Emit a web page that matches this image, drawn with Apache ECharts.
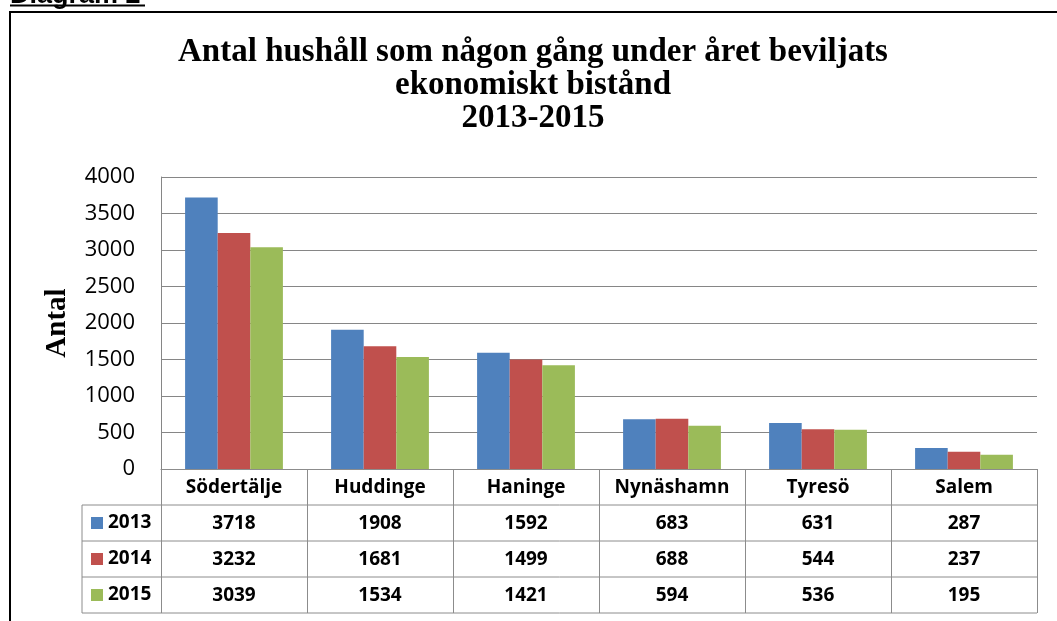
<!DOCTYPE html>
<html>
<head>
<meta charset="utf-8">
<script src="https://cdn.jsdelivr.net/npm/echarts@6/dist/echarts.min.js"></script>
<style>
html,body{margin:0;padding:0;background:#fff;}
#graph{width:1057px;height:621px;}
</style>
</head>
<body>
<div id="graph"></div>
<script>
var categories = ['Södertälje', 'Huddinge', 'Haninge', 'Nynäshamn', 'Tyresö', 'Salem'];
var years = ['2013', '2014', '2015'];
var v2013 = [3718, 1908, 1592, 683, 631, 287];
var v2014 = [3232, 1681, 1499, 688, 544, 237];
var v2015 = [3039, 1534, 1421, 594, 536, 195];
var yMin = 0, yMax = 4000, yStep = 500;

var colors = ['#4f81bd', '#c0504d', '#9bbb59'];
var values = [v2013, v2014, v2015];
var gridGray = '#868686';
var tableGray = '#8c8c8c';
var sans = 'Open Sans';
var serif = 'Liberation Serif';

// grid position, the data table hangs below it
var G = {left: 161, right: 20, top: 177, bottom: 152};
var ROW = 36;

var chart = echarts.init(document.getElementById('graph'));

var series = years.map(function (y, i) {
    return {
        name: y,
        type: 'bar',
        data: values[i],
        barGap: 0,
        barCategoryGap: '33%',
        itemStyle: {color: colors[i]}
    };
});

var option = {
    animation: false,
    backgroundColor: '#fff',
    color: colors,
    title: {
        text: 'Antal hushåll som någon gång under året beviljats\nekonomiskt bistånd\n2013-2015',
        left: 533,
        top: 36,
        padding: 0,
        textAlign: 'center',
        textStyle: {
            fontFamily: serif,
            fontWeight: 'bold',
            fontSize: 33,
            lineHeight: 33,
            color: '#000'
        }
    },
    legend: {
        orient: 'vertical',
        left: 91,
        top: 469 + ROW,
        padding: 0,
        itemGap: 0,
        itemWidth: 12,
        itemHeight: 12,
        icon: 'rect',
        selectedMode: false,
        data: years,
        textStyle: {
            fontFamily: sans,
            fontWeight: 'bold',
            fontSize: 19,
            lineHeight: ROW,
            color: '#000'
        }
    },
    grid: {left: G.left, right: G.right, top: G.top, bottom: G.bottom, containLabel: false},
    xAxis: {
        type: 'category',
        data: categories,
        axisLine: {show: true, lineStyle: {color: tableGray, width: 1}},
        axisTick: {show: true, length: ROW * 4, lineStyle: {color: tableGray, width: 1}},
        axisLabel: {
            interval: 0,
            margin: 1,
            verticalAlign: 'top',
            fontFamily: sans,
            fontWeight: 'bold',
            fontSize: 19,
            lineHeight: ROW,
            color: '#000',
            formatter: function (name, idx) {
                return [name, v2013[idx], v2014[idx], v2015[idx]].join('\n');
            }
        }
    },
    yAxis: {
        type: 'value',
        min: yMin,
        max: yMax,
        interval: yStep,
        name: 'Antal',
        nameLocation: 'middle',
        nameRotate: 90,
        nameGap: 89,
        nameTextStyle: {
            fontFamily: serif,
            fontWeight: 'bold',
            fontSize: 29,
            color: '#000'
        },
        axisLine: {show: true, lineStyle: {color: gridGray, width: 1}},
        axisTick: {show: false},
        splitLine: {show: true, lineStyle: {color: gridGray, width: 1}},
        axisLabel: {
            margin: 26,
            fontFamily: sans,
            fontSize: 22,
            color: '#000',
            formatter: function (v) { return String(v); }
        }
    },
    series: series
};

chart.setOption(option);

// table borders, outer frame and the cut-off heading
var W = chart.getWidth(), H = chart.getHeight();
var tTop = H - G.bottom;
var tLeft = 82, tRight = W - G.right;
var lines = [];
for (var k = 1; k <= 4; k++) {
    lines.push({
        type: 'line',
        shape: {x1: tLeft, y1: tTop + ROW * k, x2: tRight, y2: tTop + ROW * k},
        style: {stroke: tableGray, lineWidth: 1}
    });
}
lines.push({
    type: 'line',
    shape: {x1: tLeft, y1: tTop + ROW, x2: tLeft, y2: tTop + ROW * 4},
    style: {stroke: tableGray, lineWidth: 1}
});
lines.push({
    type: 'rect',
    shape: {x: 10, y: 12, width: 1200, height: 800},
    style: {fill: null, stroke: '#000', lineWidth: 2}
});
lines.push({
    type: 'text',
    x: 10,
    y: -4,
    style: {
        text: 'Diagram 2',
        fontFamily: 'Liberation Sans',
        fontWeight: 'bold',
        fontSize: 27,
        fill: '#000',
        verticalAlign: 'middle'
    }
});
lines.push({
    type: 'line',
    shape: {x1: 10, y1: 5.5, x2: 145, y2: 5.5},
    style: {stroke: '#000', lineWidth: 2}
});
chart.setOption({graphic: lines});
</script>
</body>
</html>
